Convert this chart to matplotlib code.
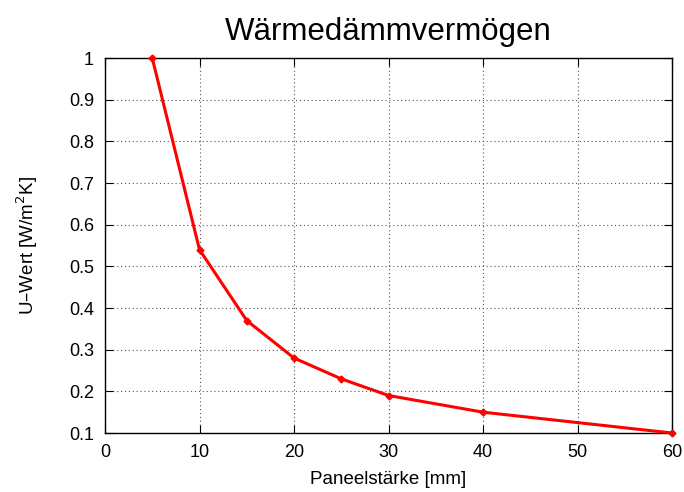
import matplotlib
matplotlib.use("Agg")
import matplotlib.pyplot as plt

# daten
staerke = [5, 10, 15, 20, 25, 30, 40, 60]
u_wert = [1.0, 0.54, 0.37, 0.28, 0.23, 0.19, 0.15, 0.10]
x_ticks = [0, 10, 20, 30, 40, 50, 60]
y_ticks = [0.1, 0.2, 0.3, 0.4, 0.5, 0.6, 0.7, 0.8, 0.9, 1.0]
y_labels = ["0.1", "0.2", "0.3", "0.4", "0.5", "0.6", "0.7", "0.8", "0.9", "1"]

plt.rcParams["font.family"] = ["Liberation Sans", "DejaVu Sans"]

fig = plt.figure(figsize=(6.84, 4.92), dpi=100)
ax = fig.add_axes([0.1535, 0.1199, 0.829, 0.7621])

ax.plot(staerke, u_wert, color="red", linewidth=2.2, marker="D", markersize=3.5,
        clip_on=False, zorder=3)

ax.set_xlim(0, 60)
ax.set_ylim(0.1, 1.0)
ax.set_xticks(x_ticks)
ax.set_yticks(y_ticks)
ax.set_yticklabels(y_labels)
ax.tick_params(direction="in", top=True, right=True, labelsize=13, length=6, width=0.8, pad=8)
ax.grid(True, color="#555555", linestyle=(0, (1, 2.5)), linewidth=0.8)
for s in ax.spines.values():
    s.set_linewidth(1.0)

ax.set_title("Wärmedämmvermögen", fontsize=22.5, pad=13)
ax.set_xlabel("Paneelstärke [mm]", fontsize=13.5, labelpad=7)
ax.set_ylabel("U\u2013Wert [W/m$^2$K]", fontsize=13.5, labelpad=21)

fig.savefig("out.png", dpi=100)
